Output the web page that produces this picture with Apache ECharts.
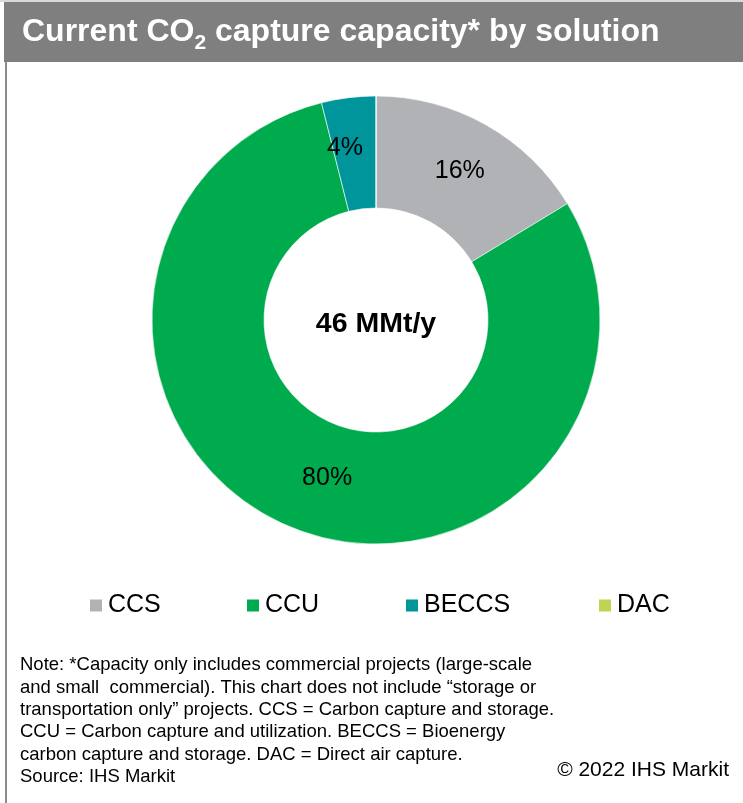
<!DOCTYPE html>
<html>
<head>
<meta charset="utf-8">
<script src="https://cdn.jsdelivr.net/npm/echarts@6/dist/echarts.min.js"></script>
<style>
html,body{margin:0;padding:0;background:#fff;}
#chart{width:743px;height:803px;}
</style>
</head>
<body>
<div id="chart"></div>
<script>
// Data (MMt/y), total 46
const categories = ['CCS', 'CCU', 'BECCS', 'DAC'];
const capacity = [7.5, 36.7, 1.8, 0];
const colors = ['#b1b2b6', '#00ab4e', '#00959a', '#c0d353'];
const centerLabel = '46 MMt/y';
const noteLines = [
  'Note: *Capacity only includes commercial projects (large-scale',
  'and small  commercial). This chart does not include \u201cstorage or',
  'transportation only\u201d projects. CCS = Carbon capture and storage.',
  'CCU = Carbon capture and utilization. BECCS = Bioenergy',
  'carbon capture and storage. DAC = Direct air capture.',
  'Source: IHS Markit'
];
const copyright = '\u00a9 2022 IHS Markit';
const labelOffsets = [[0, 0], [16, 0], [-10, -2], [0, 0]];
const legendLefts = [88, 245, 404, 597];

const FONT = "'Liberation Sans', Arial, sans-serif";
const chart = echarts.init(document.getElementById('chart'), null, {renderer: 'canvas'});

const data = categories.map((c, i) => ({
  name: c,
  value: capacity[i],
  itemStyle: {color: colors[i]},
  label: {show: capacity[i] > 0, offset: labelOffsets[i]}
}));

const option = {
  backgroundColor: '#ffffff',
  animation: false,
  graphic: [
    {type: 'rect', shape: {x: 0, y: 0, width: 743, height: 2}, style: {fill: '#d9d9d9'}, z: -1},
    {type: 'rect', shape: {x: 4, y: 2, width: 739, height: 60}, style: {fill: '#7f7f7f'}, z: -1},
    {type: 'rect', shape: {x: 5, y: 62, width: 2, height: 741}, style: {fill: '#8c8c8c'}, z: -1}
  ],
  title: [
    {
      text: 'Current CO{sub|2} capture capacity* by solution',
      left: 22, top: 16, padding: 0,
      textStyle: {
        color: '#ffffff', fontFamily: FONT, fontWeight: 'bold', fontSize: 32, lineHeight: 32,
        rich: {
          sub: {color: '#ffffff', fontFamily: FONT, fontWeight: 'bold', fontSize: 21, lineHeight: 10, padding: [22, 0, 0, 0]}
        }
      }
    },
    {
      text: centerLabel,
      left: 376, top: 324, textAlign: 'center', textVerticalAlign: 'middle', padding: 0,
      textStyle: {color: '#000', fontFamily: FONT, fontWeight: 'bold', fontSize: 28.5}
    },
    {
      text: noteLines.join('\n'),
      left: 20, top: 654, padding: 0,
      textStyle: {color: '#000', fontFamily: FONT, fontWeight: 'normal', fontSize: 18.5, lineHeight: 22.4}
    },
    {
      text: copyright,
      right: 14, top: 759, padding: 0,
      textStyle: {color: '#000', fontFamily: FONT, fontWeight: 'normal', fontSize: 21, lineHeight: 22}
    }
  ],
  legend: categories.map((c, i) => ({
    data: [c],
    left: legendLefts[i], top: 593, padding: 0,
    icon: 'rect', itemWidth: 14, itemHeight: 14, itemGap: 0,
    textStyle: {color: '#000', fontFamily: FONT, fontSize: 25},
    selectedMode: false
  })),
  series: [{
    type: 'pie',
    center: [376, 320],
    radius: [112, 224],
    startAngle: 90,
    clockwise: true,
    avoidLabelOverlap: false,
    itemStyle: {borderColor: '#ffffff', borderWidth: 0.6},
    label: {
      position: 'inside',
      color: '#000', fontFamily: FONT, fontSize: 25,
      formatter: p => Math.round(p.percent) + '%'
    },
    labelLine: {show: false},
    emphasis: {disabled: true},
    data: data
  }]
};
chart.setOption(option);
</script>
</body>
</html>
